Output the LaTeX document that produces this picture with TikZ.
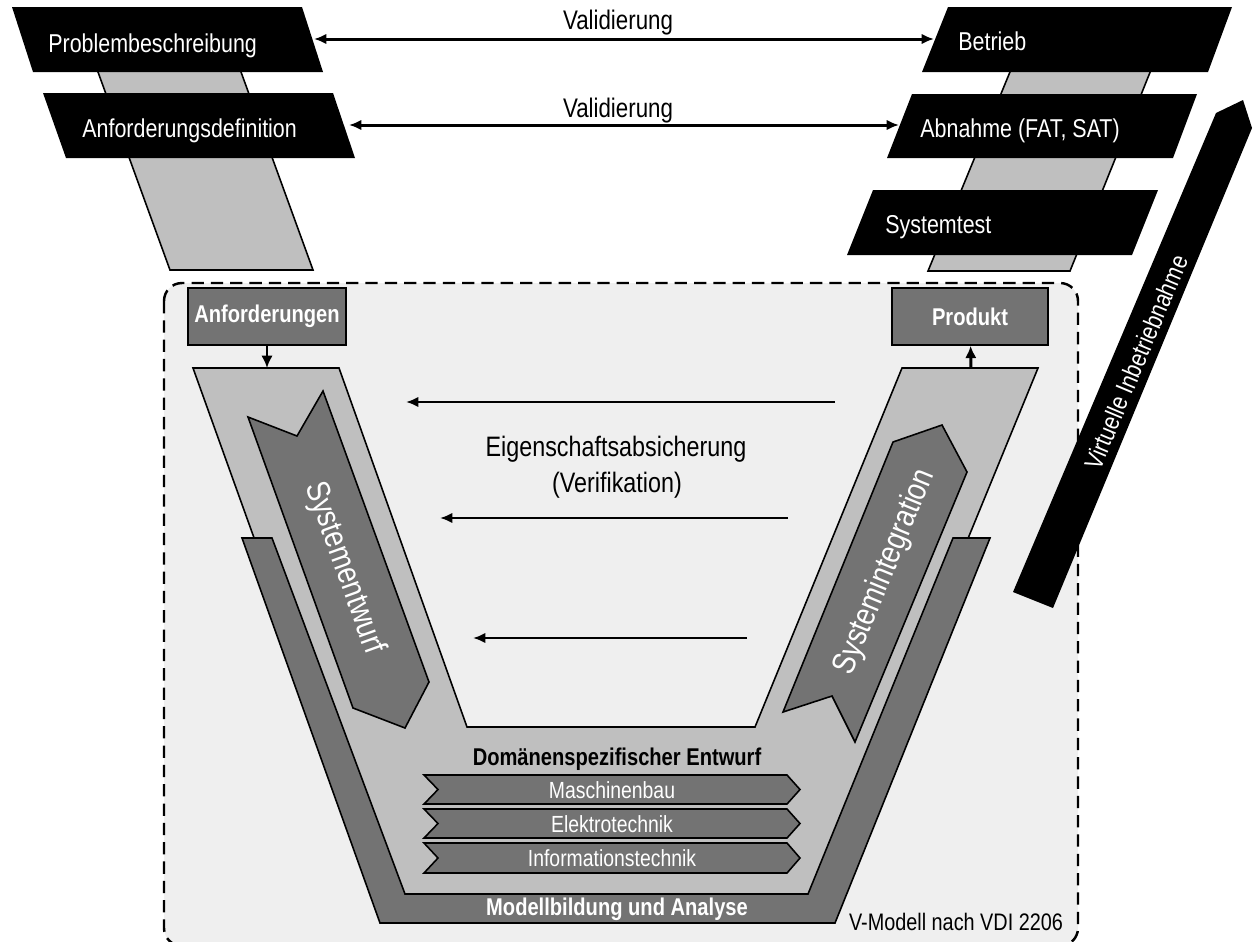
\documentclass[tikz,border=0pt]{standalone}
\usepackage{fontspec}
\setmainfont{Liberation Sans}[FakeStretch=0.83]
\usetikzlibrary{arrows.meta}

\definecolor{panelgray}{gray}{0.937}
\definecolor{lightfill}{gray}{0.75}
\definecolor{darkfill}{gray}{0.45}

\begin{document}
\begin{tikzpicture}[x=0.02cm,y=-0.02cm,
  outline/.style={draw=black,line width=0.9pt,line join=miter},
  lightshape/.style={outline,fill=lightfill},
  darkshape/.style={outline,fill=darkfill},
  phasebox/.style={fill=black},
  phaselabel/.style={font=\fontsize{14.7}{17}\selectfont,text=white,inner sep=0pt,anchor=base west},
  plaintext/.style={font=\fontsize{15.3}{18}\selectfont,inner sep=0pt,anchor=base},
  bigtext/.style={font=\fontsize{16}{19}\selectfont,inner sep=0pt,anchor=base},
  boldlabel/.style={font=\bfseries\fontsize{13.8}{16}\selectfont,inner sep=0pt,anchor=base},
  domainlabel/.style={font=\fontsize{13.3}{16}\selectfont,text=white,inner sep=0pt,anchor=base},
  arrowtext/.style={font=\fontsize{18.7}{22}\selectfont,text=white,inner sep=0pt},
  resultbox/.style={darkshape,minimum width=3.16cm,minimum height=1.14cm,inner sep=0pt,
    font=\bfseries\fontsize{13.8}{16}\selectfont,text=white},
  valarrow/.style={{Latex[length=7pt,width=6pt]}-{Latex[length=7pt,width=6pt]},line width=1.7pt},
  verarrow/.style={-{Latex[length=7pt,width=6pt]},line width=1.5pt},
  flowarrow/.style={-{Latex[length=7pt,width=6.5pt]},line width=1.7pt},
  panel/.style={draw=black,fill=panelgray,line width=1.4pt,dash pattern=on 7pt off 4pt,rounded corners=0.36cm}
]
\useasboundingbox (0,0) rectangle (1253,941);

% grey bands linking the upper phases
\draw[lightshape] (90,50) -- (233,50) -- (313,270) -- (170,270) -- cycle;
\draw[lightshape] (1019,50) -- (1159,50) -- (1070,271) -- (928,271) -- cycle;

% black phase boxes
\fill[phasebox] (12,7) -- (302,7) -- (323,72) -- (33,72) -- cycle;
\fill[phasebox] (43,93) -- (333,93) -- (355,158) -- (66,158) -- cycle;
\fill[phasebox] (948,7) -- (1232,7) -- (1208,72) -- (922,72) -- cycle;
\fill[phasebox] (912,94) -- (1197,94) -- (1173,158) -- (887,158) -- cycle;
\fill[phasebox] (873,190) -- (1158,190) -- (1132,255) -- (847,255) -- cycle;

\node[phaselabel] (problem) at (48,52) {Problembeschreibung};
\node[phaselabel] (anfdef) at (82,137) {Anforderungsdefinition};
\node[phaselabel] (betrieb) at (958,50) {Betrieb};
\node[phaselabel] (abnahme) at (920,137) {Abnahme (FAT, SAT)};
\node[phaselabel] (systest) at (885,233) {Systemtest};

% validation arrows
\coordinate (valAL) at (314,39);
\coordinate (valAR) at (934,39);
\coordinate (valBL) at (349,125);
\coordinate (valBR) at (899,125);
\draw[valarrow] (valAL) -- (valAR);
\draw[valarrow] (valBL) -- (valBR);
\node[plaintext] (valA) at (618,29) {Validierung};
\node[plaintext] (valB) at (618,117) {Validierung};

% dashed panel of the V-model
\draw[panel] (164,283) rectangle (1078,946);

% virtual commissioning arrow
\fill[black] (1013,592) -- (1216,113) -- (1243,100) -- (1252,128) -- (1053,608) -- cycle;
\node[font=\fontsize{14.5}{17}\selectfont,text=white,inner sep=0pt,rotate=67.2] (vib) at (1136,362) {Virtuelle Inbetriebnahme};

% the V
\draw[lightshape] (193,368) -- (339,368) -- (467,727) -- (755,727) -- (902,368) -- (1038,368)
  -- (822,894) -- (382,894) -- cycle;
\draw[darkshape] (242,538) -- (380,923) -- (835,923) -- (990,538) -- (953,538) -- (808,894)
  -- (405,894) -- (272,538) -- cycle;

% design and integration arrows
\draw[darkshape] (248,417) -- (297,436) -- (323,391) -- (429,682) -- (405,728) -- (353,708) -- cycle;
\draw[darkshape] (783,712) -- (832,696) -- (855,742) -- (967,472) -- (942,425) -- (893,442) -- cycle;
\node[arrowtext,rotate=-70.2] (entwurf) at (344,568) {Systementwurf};
\node[arrowtext,rotate=67.7] (integration) at (885,572) {Systemintegration};

% domain specific design
\node[boldlabel] (domain) at (617,765) {Domänenspezifischer Entwurf};
\draw[darkshape] (424,775) -- (787,775) -- (800,789.5) -- (787,804) -- (424,804) -- (438,789.5) -- cycle;
\draw[darkshape] (424,809) -- (787,809) -- (800,823.5) -- (787,838) -- (424,838) -- (438,823.5) -- cycle;
\draw[darkshape] (424,843) -- (787,843) -- (800,858) -- (787,873) -- (424,873) -- (438,858) -- cycle;
\node[domainlabel] (mb) at (612,798) {Maschinenbau};
\node[domainlabel] (et) at (612,832) {Elektrotechnik};
\node[domainlabel] (it) at (612,866) {Informationstechnik};

\node[boldlabel,text=white] (model) at (617,915) {Modellbildung und Analyse};
\node[font=\fontsize{13.6}{16}\selectfont,inner sep=0pt,anchor=base] (vdi) at (956,930) {V-Modell nach VDI 2206};

% requirements and product
\node[resultbox] (anf) at (267,316.5) {Anforderungen};
\node[resultbox,minimum width=3.12cm] (prod) at (970,316.5) {Produkt};
\coordinate (vin) at (267,368);
\coordinate (vout) at (971,368);
\draw[flowarrow] (anf) -- (vin);
\draw[flowarrow] (vout) -- (prod);

% property assurance arrows
\coordinate (verAs) at (835,402);
\coordinate (verAe) at (406,402);
\coordinate (verBs) at (788,518);
\coordinate (verBe) at (440,518);
\coordinate (verCs) at (747,638);
\coordinate (verCe) at (473,638);
\draw[verarrow] (verAs) -- (verAe);
\draw[verarrow] (verBs) -- (verBe);
\draw[verarrow] (verCs) -- (verCe);
\node[bigtext] (eig) at (616,456) {Eigenschaftsabsicherung};
\node[bigtext] (verif) at (617,492) {(Verifikation)};
\end{tikzpicture}
\end{document}
